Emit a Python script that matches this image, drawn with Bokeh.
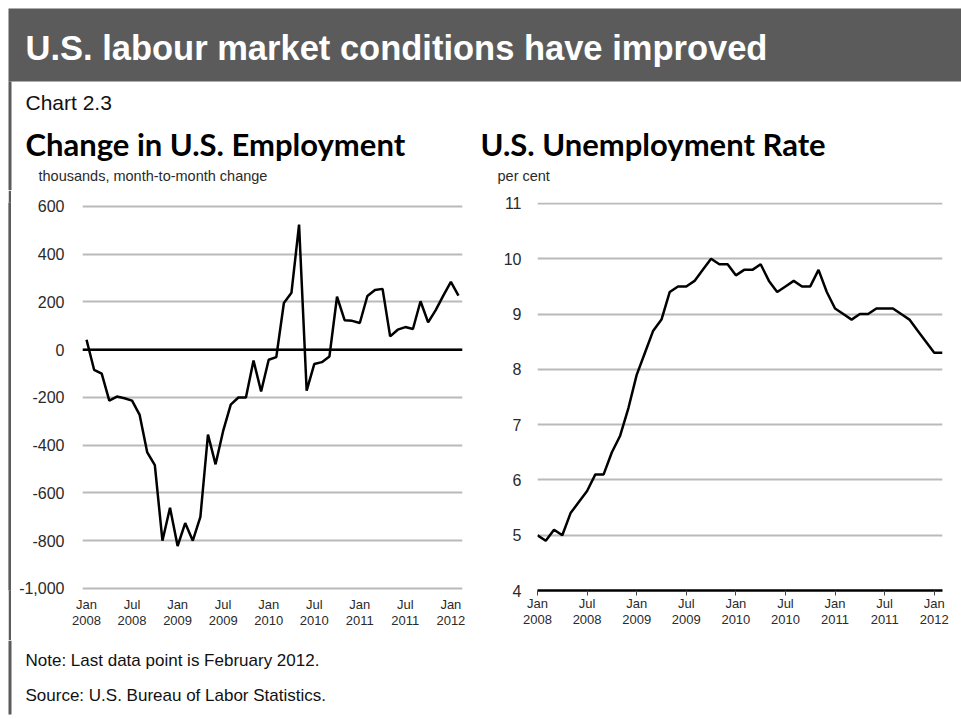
from bokeh.plotting import figure
from bokeh.layouts import column, row
from bokeh.models import Range1d, FixedTicker, NumeralTickFormatter, Span, Spacer
from bokeh.core.properties import value
from bokeh.embed import file_html
from bokeh.resources import INLINE

# ---------------- data ----------------
months = list(range(50))  # Jan 2008 ... Feb 2012
emp_change = [42, -84, -100, -213, -196, -203, -213, -273, -430, -483,
              -800, -662, -822, -726, -800, -700, -355, -480, -340, -230,
              -200, -200, -45, -175, -42, -31, 196, 239, 524, -171,
              -60, -52, -28, 222, 124, 121, 112, 225, 250, 255,
              56, 84, 95, 87, 203, 115, 166, 227, 284, 227]
unemp_rate = [5.0, 4.9, 5.1, 5.0, 5.4, 5.6, 5.8, 6.1, 6.1, 6.5,
              6.8, 7.3, 7.9, 8.3, 8.7, 8.9, 9.4, 9.5, 9.5, 9.6,
              9.8, 10.0, 9.9, 9.9, 9.7, 9.8, 9.8, 9.9, 9.6, 9.4,
              9.5, 9.6, 9.5, 9.5, 9.8, 9.4, 9.1, 9.0, 8.9, 9.0,
              9.0, 9.1, 9.1, 9.1, 9.0, 8.9, 8.7, 8.5, 8.3, 8.3]
tick_months = [0, 6, 12, 18, 24, 30, 36, 42, 48]
tick_labels = ["Jan\n2008", "Jul\n2008", "Jan\n2009", "Jul\n2009", "Jan\n2010",
               "Jul\n2010", "Jan\n2011", "Jul\n2011", "Jan\n2012"]
emp_ticks = [-1000, -800, -600, -400, -200, 0, 200, 400, 600]
rate_ticks = [4, 5, 6, 7, 8, 9, 10, 11]

header_text = "U.S. labour market conditions have improved"
chart_no = "Chart 2.3"
title_left = "Change in U.S. Employment"
title_right = "U.S. Unemployment Rate"
unit_left = "thousands, month-to-month change"
unit_right = "per cent"
note_text = "Note: Last data point is February 2012."
source_text = "Source: U.S. Bureau of Labor Statistics."

# ---------------- layout constants ----------------
W = 961
M = 8            # outer margin
TOP_H = 190
ROW_H = 450
FOOT_H = 76
BORDER_W = 3
LEFT_W = 464
RIGHT_W = W - M - BORDER_W - LEFT_W
FR_TOP = 12
FR_BOT = 50
DARK = "#5b5b5b"
GRID = "#bababa"
LABEL = "#2a2a2a"
SANS = "Liberation Sans"
TITLE_FONT = "Lato"


def blank(width, height, xr, yr, fill="white"):
    p = figure(width=width, height=height, x_range=Range1d(*xr), y_range=Range1d(*yr),
               output_backend="svg", toolbar_location=None, min_border=0,
               x_axis_location=None, y_axis_location=None)
    p.grid.visible = False
    p.outline_line_color = None
    p.background_fill_color = fill
    p.border_fill_color = fill
    return p


# ---------------- top block: header + titles ----------------
top = blank(W, TOP_H, (0, W), (TOP_H, 0))
top.quad(left=[M], right=[W], top=[M], bottom=[81], color=DARK, line_color=None)
top.quad(left=[M], right=[M + BORDER_W], top=[81], bottom=[TOP_H], color=DARK, line_color=None)
top.text(x=[25], y=[47], text=[header_text], text_font=value(SANS), text_font_style="bold",
         text_font_size="34.5px", text_color="white", text_baseline="middle")
top.text(x=[25], y=[102], text=[chart_no], text_font=value(SANS),
         text_font_size="21px", text_color="#111111", text_baseline="middle")
top.text(x=[25, 480], y=[143, 143], text=[title_left, title_right], text_font=value(TITLE_FONT),
         text_font_style="bold", text_font_size="31px", text_color="#000000", text_baseline="middle")
top.text(x=[38, 497], y=[175, 175], text=[unit_left, unit_right], text_font=value(SANS),
         text_font_size="14.5px", text_color=LABEL, text_baseline="middle")

# ---------------- left border strip for chart row ----------------
gap = Spacer(width=M, height=ROW_H)
strip = blank(BORDER_W, ROW_H, (0, 1), (0, 1), fill=DARK)
strip.quad(left=[0], right=[1], top=[1], bottom=[0], color=DARK, line_color=None)

# ---------------- left chart ----------------
left = figure(width=LEFT_W, height=ROW_H, x_range=Range1d(-0.53, 49.53),
              y_range=Range1d(-1008.4, 616.75), output_backend="svg", toolbar_location=None,
              min_border_left=71, min_border_right=13, min_border_top=FR_TOP,
              min_border_bottom=FR_BOT)
left.outline_line_color = None
left.xgrid.grid_line_color = None
left.ygrid.grid_line_color = GRID
left.ygrid.grid_line_width = 2
left.yaxis.ticker = FixedTicker(ticks=emp_ticks)
left.yaxis.formatter = NumeralTickFormatter(format="0,0")
left.xaxis.ticker = FixedTicker(ticks=tick_months)
left.xaxis.major_label_overrides = dict(zip(tick_months, tick_labels))
for ax in (left.xaxis[0], left.yaxis[0]):
    ax.axis_line_color = None
    ax.major_tick_line_color = None
    ax.minor_tick_line_color = None
    ax.major_label_text_font = SANS
    ax.major_label_text_color = LABEL
left.yaxis.major_label_text_font_size = "16px"
left.yaxis.major_label_standoff = 12
left.xaxis.major_label_text_font_size = "13px"
left.xaxis.major_label_text_line_height = 1.1
left.xaxis.major_label_standoff = 0
left.add_layout(Span(location=0, dimension="width", line_color="black", line_width=2.5))
left.line(months, emp_change, line_color="black", line_width=2.5)

# ---------------- right chart ----------------
right = figure(width=RIGHT_W, height=ROW_H, x_range=Range1d(0, 49),
               y_range=Range1d(4, 11.018), output_backend="svg", toolbar_location=None,
               min_border_left=62, min_border_right=RIGHT_W - 62 - 405, min_border_top=FR_TOP,
               min_border_bottom=FR_BOT)
right.outline_line_color = None
right.xgrid.grid_line_color = None
right.ygrid.grid_line_color = GRID
right.ygrid.grid_line_width = 2
right.yaxis.ticker = FixedTicker(ticks=rate_ticks)
right.xaxis.ticker = FixedTicker(ticks=tick_months)
right.xaxis.major_label_overrides = dict(zip(tick_months, tick_labels))
right.yaxis.axis_line_color = None
right.yaxis.major_tick_line_color = None
right.yaxis.minor_tick_line_color = None
right.yaxis.major_label_standoff = 10
right.yaxis.major_label_text_font_size = "16px"
right.xaxis.axis_line_color = "black"
right.xaxis.axis_line_width = 2.5
right.xaxis.major_tick_in = 0
right.xaxis.major_tick_out = 5
right.xaxis.major_tick_line_color = "#444444"
right.xaxis.minor_tick_line_color = None
right.xaxis.major_label_standoff = 0
right.xaxis.major_label_text_font_size = "13px"
right.xaxis.major_label_text_line_height = 1.1
for ax in (right.xaxis[0], right.yaxis[0]):
    ax.major_label_text_font = SANS
    ax.major_label_text_color = LABEL
right.line(months, unemp_rate, line_color="black", line_width=2.5)

# ---------------- footer ----------------
foot = blank(W, FOOT_H, (0, W), (FOOT_H, 0))
foot.quad(left=[M], right=[M + BORDER_W], top=[0], bottom=[74], color=DARK, line_color=None)
foot.text(x=[25, 25], y=[20, 55], text=[note_text, source_text], text_font=value(SANS),
          text_font_size="17px", text_color="#111111", text_baseline="middle")

page = column(top, row(gap, strip, left, right), foot)
open("out.html", "w").write(file_html(page, INLINE))
